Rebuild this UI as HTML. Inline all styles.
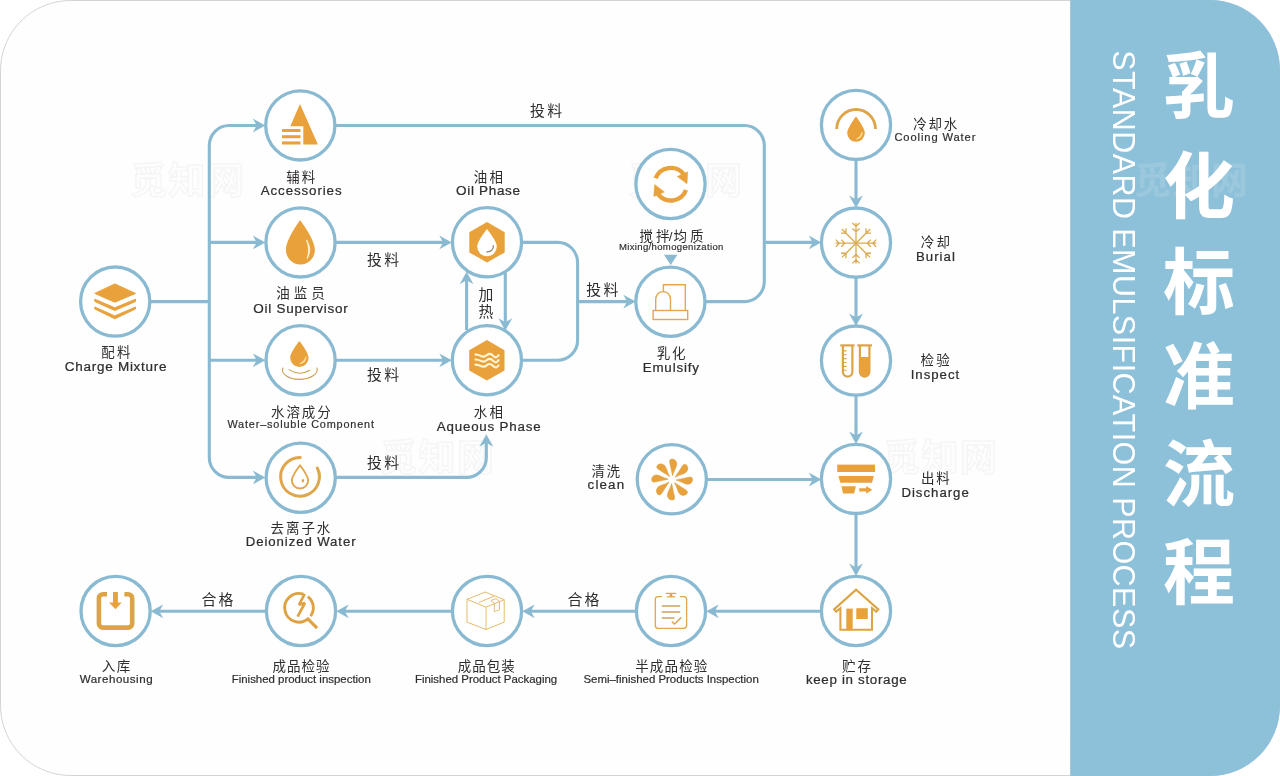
<!DOCTYPE html>
<html><head><meta charset="utf-8"><title>乳化标准流程</title>
<style>
html,body{margin:0;padding:0;background:#fff;}
body{width:1280px;height:776px;overflow:hidden;font-family:"Liberation Sans",sans-serif;}
svg{display:block;will-change:transform;font-family:"Liberation Sans",sans-serif;}
.cj{font-family:"Liberation Sans","Noto Sans CJK SC",sans-serif;}
</style></head><body>
<svg width="1280" height="776" viewBox="0 0 1280 776">
<rect x="0.5" y="0.5" width="1279" height="775" rx="70" ry="70" fill="#fefefe" stroke="#d4d4d4" stroke-width="1"/>
<path d="M1070.2 0H1210A70 70 0 0 1 1280 70V706A70 70 0 0 1 1210 776H1070.2Z" fill="#8dc0d9"/><text transform="translate(1112.9 50.3) rotate(90)" font-size="30.5" letter-spacing="0.45" fill="#fff">STANDARD EMULSIFICATION PROCESS</text><text class="cj" x="1134.0 1172.5 1211.0" y="194" font-size="37" font-weight="bold" fill="#fff" stroke="none" opacity="0.13">觅知网</text><g class="cj" fill="#fff" font-size="72" font-weight="bold" text-anchor="middle"><text x="1199" y="112">乳</text><text x="1199" y="212">化</text><text x="1199" y="308">标</text><text x="1199" y="402">准</text><text x="1199" y="500">流</text><text x="1199" y="598">程</text></g>
<text class="cj" x="130.0 168.5 207.0" y="194" font-size="37" font-weight="bold" fill="#fdfdfd" stroke="#f5f5f5" stroke-width="1.3">觅知网</text>
<text class="cj" x="628.0 666.5 705.0" y="194" font-size="37" font-weight="bold" fill="#fdfdfd" stroke="#f5f5f5" stroke-width="1.3">觅知网</text>
<text class="cj" x="380.0 418.5 457.0" y="470.5" font-size="37" font-weight="bold" fill="#fdfdfd" stroke="#f5f5f5" stroke-width="1.3">觅知网</text>
<text class="cj" x="883.0 921.5 960.0" y="470.5" font-size="37" font-weight="bold" fill="#fdfdfd" stroke="#f5f5f5" stroke-width="1.3">觅知网</text>
<path d="M150 301.6H209.3" fill="none" stroke="#8abad2" stroke-width="3.1"/>
<path d="M262 125.5H229.3A20 20 0 0 0 209.3 145.5V457.4A20 20 0 0 0 229.3 477.4H262" fill="none" stroke="#8abad2" stroke-width="3.1"/>
<path d="M209.3 242.4H262" fill="none" stroke="#8abad2" stroke-width="3.1"/>
<path d="M209.3 360.3H262" fill="none" stroke="#8abad2" stroke-width="3.1"/>
<path d="M336 125.5H744.3A20 20 0 0 1 764.3 145.5V281.6A20 20 0 0 1 744.3 301.6H706" fill="none" stroke="#8abad2" stroke-width="3.1"/>
<path d="M764.3 242.4H815" fill="none" stroke="#8abad2" stroke-width="3.1"/>
<path d="M336 242.4H446" fill="none" stroke="#8abad2" stroke-width="3.1"/>
<path d="M336 360.3H446" fill="none" stroke="#8abad2" stroke-width="3.1"/>
<path d="M336 477.4H466.3A20 20 0 0 0 486.3 457.4V442" fill="none" stroke="#8abad2" stroke-width="3.1"/>
<path d="M522 242.4H557.6A20 20 0 0 1 577.6 262.4V340.3A20 20 0 0 1 557.6 360.3H522" fill="none" stroke="#8abad2" stroke-width="3.1"/>
<path d="M577.6 301.6H630" fill="none" stroke="#8abad2" stroke-width="3.1"/>
<path d="M466.6 280V330" fill="none" stroke="#8abad2" stroke-width="3.1"/>
<path d="M505.3 270V322" fill="none" stroke="#8abad2" stroke-width="3.1"/>
<path d="M856 160V202" fill="none" stroke="#8abad2" stroke-width="3.1"/>
<path d="M856 278V320" fill="none" stroke="#8abad2" stroke-width="3.1"/>
<path d="M856 395V438" fill="none" stroke="#8abad2" stroke-width="3.1"/>
<path d="M856 513V569" fill="none" stroke="#8abad2" stroke-width="3.1"/>
<path d="M706 479.5H815" fill="none" stroke="#8abad2" stroke-width="3.1"/>
<path d="M821 611.3H712" fill="none" stroke="#8abad2" stroke-width="3.1"/>
<path d="M636 611.3H528" fill="none" stroke="#8abad2" stroke-width="3.1"/>
<path d="M452 611.3H342" fill="none" stroke="#8abad2" stroke-width="3.1"/>
<path d="M266 611.3H156" fill="none" stroke="#8abad2" stroke-width="3.1"/>
<path d="M0 0L-12.5 -6.9L-8.6 0L-12.5 6.9Z" fill="#8abad2" transform="translate(265.3 125.5) rotate(0)"/>
<path d="M0 0L-12.5 -6.9L-8.6 0L-12.5 6.9Z" fill="#8abad2" transform="translate(265.3 242.4) rotate(0)"/>
<path d="M0 0L-12.5 -6.9L-8.6 0L-12.5 6.9Z" fill="#8abad2" transform="translate(265.3 360.3) rotate(0)"/>
<path d="M0 0L-12.5 -6.9L-8.6 0L-12.5 6.9Z" fill="#8abad2" transform="translate(265.3 477.4) rotate(0)"/>
<path d="M0 0L-12.5 -6.9L-8.6 0L-12.5 6.9Z" fill="#8abad2" transform="translate(451.8 242.4) rotate(0)"/>
<path d="M0 0L-12.5 -6.9L-8.6 0L-12.5 6.9Z" fill="#8abad2" transform="translate(451.8 360.3) rotate(0)"/>
<path d="M0 0L-12.5 -6.9L-8.6 0L-12.5 6.9Z" fill="#8abad2" transform="translate(486.3 434.2) rotate(270)"/>
<path d="M0 0L-12.5 -6.9L-8.6 0L-12.5 6.9Z" fill="#8abad2" transform="translate(635.8 301.6) rotate(0)"/>
<path d="M0 0L-12.5 -6.9L-8.6 0L-12.5 6.9Z" fill="#8abad2" transform="translate(821.3 242.4) rotate(0)"/>
<path d="M0 0L-12.5 -6.9L-8.6 0L-12.5 6.9Z" fill="#8abad2" transform="translate(466.6 271.7) rotate(270)"/>
<path d="M0 0L-12.5 -6.9L-8.6 0L-12.5 6.9Z" fill="#8abad2" transform="translate(505.3 330.8) rotate(90)"/>
<path d="M0 0L-12.5 -6.9L-8.6 0L-12.5 6.9Z" fill="#8abad2" transform="translate(856 208.10000000000002) rotate(90)"/>
<path d="M0 0L-12.5 -6.9L-8.6 0L-12.5 6.9Z" fill="#8abad2" transform="translate(856 326.0) rotate(90)"/>
<path d="M0 0L-12.5 -6.9L-8.6 0L-12.5 6.9Z" fill="#8abad2" transform="translate(856 444.1) rotate(90)"/>
<path d="M0 0L-12.5 -6.9L-8.6 0L-12.5 6.9Z" fill="#8abad2" transform="translate(856 576.0999999999999) rotate(90)"/>
<path d="M0 0L-12.5 -6.9L-8.6 0L-12.5 6.9Z" fill="#8abad2" transform="translate(821.3 479.5) rotate(0)"/>
<path d="M0 0L-12.5 -6.9L-8.6 0L-12.5 6.9Z" fill="#8abad2" transform="translate(706.2 611.3) rotate(180)"/>
<path d="M0 0L-12.5 -6.9L-8.6 0L-12.5 6.9Z" fill="#8abad2" transform="translate(522.2 611.3) rotate(180)"/>
<path d="M0 0L-12.5 -6.9L-8.6 0L-12.5 6.9Z" fill="#8abad2" transform="translate(336.2 611.3) rotate(180)"/>
<path d="M0 0L-12.5 -6.9L-8.6 0L-12.5 6.9Z" fill="#8abad2" transform="translate(150.7 611.3) rotate(180)"/>
<path d="M670.7 265L664 254.8H677.5Z" fill="#8abad2"/>
<circle cx="115.2" cy="301.6" r="34.6" fill="#fff" stroke="#8abad2" stroke-width="3.3"/>
<g transform="translate(115 301.2)"><g fill="#e9a23b" stroke="#e9a23b" stroke-width="1" stroke-linejoin="round"><polygon points="-20.2,-7.8 -0.2,-17.3 20.5,-7.8 -0.2,1.0"/><polygon points="-20.2,-2.0 -0.2,6.6 20.5,-2.0 20.5,0.3 -0.2,9.3 -20.2,0.3"/><polygon points="-20.2,5.8 -0.2,14.7 20.5,5.8 20.5,7.8 -0.2,17.6 -20.2,7.8"/></g></g>
<circle cx="300.3" cy="125.4" r="34.6" fill="#fff" stroke="#8abad2" stroke-width="3.3"/>
<g transform="translate(300.5 125.5)"><g fill="#e9a23b"><polygon points="-0.5,-21.6 17.4,19.0 2.8,19.0 2.8,0.8 -10.2,0.8"/><rect x="-18.5" y="3.5" width="18.5" height="3"/><rect x="-18.5" y="9.7" width="18.5" height="3"/><rect x="-18.5" y="15.9" width="18.5" height="3.1"/></g></g>
<circle cx="300.5" cy="242.4" r="34.6" fill="#fff" stroke="#8abad2" stroke-width="3.3"/>
<g transform="translate(300.5 242.5)"><path d="M-0.4 -22.3C-0.4 -22.3 -14.6 -3.5 -14.6 7.4A14.5 14.6 0 0 0 14.4 7.4C14.4 -3.5 -0.4 -22.3 -0.4 -22.3Z" fill="#e9a23b"/><path d="M6.0 -2.6Q12.2 6.5 6.7 16.2Q9.6 6.5 6.0 -2.6Z" fill="#fff6d8" stroke="#fff6d8" stroke-width="0.8" stroke-linejoin="round"/></g>
<circle cx="300.6" cy="360.3" r="34.6" fill="#fff" stroke="#8abad2" stroke-width="3.3"/>
<g transform="translate(300.5 360)"><path d="M-1.1 -18.9C-1.1 -18.9 -10.3 -7.5 -10.3 -2.3A9.2 9.2 0 0 0 8.1 -2.3C8.1 -7.5 -1.1 -18.9 -1.1 -18.9Z" fill="#e9a23b"/><path d="M5.6 -3.4Q5.5 3 -0.8 3.8Q4.2 1.6 5.6 -3.4Z" fill="#ffe9a8" stroke="#ffe9a8" stroke-width="0.6"/><path d="M-11.4 9.6Q-1 16.5 9.2 10.2" fill="none" stroke="#cf9f4e" stroke-width="1.1" stroke-linecap="round"/><path d="M-17.6 8.0C-20 13.5 -12 19.4 -1.1 19.4C10 19.4 18.5 13.5 16.4 8.0" fill="none" stroke="#cf9f4e" stroke-width="1.1" stroke-linecap="round"/></g>
<circle cx="300.7" cy="477.8" r="34.6" fill="#fff" stroke="#8abad2" stroke-width="3.3"/>
<g transform="translate(300.5 477.5)"><path d="M16.79 -9.51A19.4 19.4 0 1 1 -0.16 -20.10" fill="none" stroke="#dfa64a" stroke-width="3.0" stroke-linecap="round"/><path d="M-0.5 -12.2C-0.5 -12.2 -8.6 -1.5 -8.6 2.9A8.1 8.1 0 0 0 7.6 2.9C7.6 -1.5 -0.5 -12.2 -0.5 -12.2Z" fill="none" stroke="#dfa64a" stroke-width="1.9" stroke-linejoin="round"/><ellipse cx="2.4" cy="3.2" rx="1.3" ry="1.7" fill="#e4a548"/></g>
<circle cx="487" cy="242.3" r="34.6" fill="#fff" stroke="#8abad2" stroke-width="3.3"/>
<g transform="translate(487 242.5)"><polygon points="0.0,-20.4 17.7,-10.3 17.7,9.9 0.0,20.0 -17.7,9.9 -17.7,-10.3" fill="#e9a23b"/><path d="M0 -13.4C0 -13.4 -9.8 -1.2 -9.8 4.0A9.8 9.8 0 0 0 9.8 4.0C9.8 -1.2 0 -13.4 0 -13.4Z" fill="#fff"/><path d="M6.3 3.0A5.6 5.6 0 0 1 -0.2 9.3" fill="none" stroke="#8d8472" stroke-width="1.2" stroke-linecap="round"/></g>
<circle cx="486.9" cy="360.2" r="34.6" fill="#fff" stroke="#8abad2" stroke-width="3.3"/>
<g transform="translate(487 360)"><polygon points="-0.1,-20.0 17.5,-9.8 17.5,10.5 -0.1,20.6 -17.8,10.5 -17.8,-9.8" fill="#e9a23b"/><path d="M-12.4 -5.5Q-9.3 -5.9 -6.2 -4.1T0 -5.0T6.2 -4.1T12 -5.5" fill="none" stroke="#fff6d6" stroke-width="2.1"/><path d="M-12.4 -0.4Q-9.3 -0.8 -6.2 0.9T0 0.0T6.2 0.9T12 -0.4" fill="none" stroke="#fff6d6" stroke-width="2.1"/><path d="M-12.4 4.7Q-9.3 4.3 -6.2 6.0T0 5.1T6.2 6.0T12 4.7" fill="none" stroke="#fff6d6" stroke-width="2.1"/></g>
<circle cx="670.5" cy="184" r="34.6" fill="#fff" stroke="#8abad2" stroke-width="3.3"/>
<g transform="translate(671 184)"><g fill="#e9a23b" stroke="#e9a23b"><path d="M-15.42 -5.69A16.3 16.3 0 0 1 12.64 -9.89" fill="none" stroke-width="4.3"/><path d="M15.02 5.99A16.3 16.3 0 0 1 -13.04 10.19" fill="none" stroke-width="4.3"/><polygon points="16.8,-12.2 16.0,-0.2 6.2,-7.6" stroke-width="0.5" stroke-linejoin="round"/><polygon points="-17.2,12.5 -16.4,0.5 -6.6,7.9" stroke-width="0.5" stroke-linejoin="round"/></g></g>
<circle cx="670.4" cy="301.8" r="34.6" fill="#fff" stroke="#8abad2" stroke-width="3.3"/>
<g transform="translate(671 301.2)"><g fill="none" stroke="#e0a850" stroke-width="1.4"><rect x="-17.9" y="9.3" width="34.6" height="9.0"/><path d="M-15.3 9.3V-2.2A7.4 7.4 0 0 1 -0.5 -2.2V9.3"/><path d="M-7.6 -9.6V-16.4H14.3V9.3"/></g></g>
<circle cx="856" cy="124.9" r="34.6" fill="#fff" stroke="#8abad2" stroke-width="3.3"/>
<g transform="translate(856 125.5)"><path d="M-19.3 3.4A19.4 19.4 0 0 1 19.5 3.4" fill="none" stroke="#dfa445" stroke-width="2.8"/><path d="M0 -8.9C0 -8.9 -8.8 2.6 -8.8 7.5A8.8 8.8 0 0 0 8.8 7.5C8.8 2.6 0 -8.9 0 -8.9Z" fill="#e9a23b"/><path d="M6.2 6.6Q6.2 12.6 0.4 13.6Q5 11.5 6.2 6.6Z" fill="#ffe9a8" stroke="#ffe9a8" stroke-width="0.6"/></g>
<circle cx="856" cy="242.6" r="34.6" fill="#fff" stroke="#8abad2" stroke-width="3.3"/>
<g transform="translate(856 242.5)"><g transform="translate(0 0.7)" fill="none" stroke="#dba94f" stroke-width="1.3"><path d="M0 0H20.2M11.3 0L14.700000000000001 -3.6M11.3 0L14.700000000000001 3.6M16.8 0L20.2 -3.6M16.8 0L20.2 3.6" transform="rotate(0)"/><path d="M0 0H20.0M14.2 0L17.74 -3.54M14.2 0L17.74 3.54" transform="rotate(45)"/><path d="M0 0H20.2M11.3 0L14.700000000000001 -3.6M11.3 0L14.700000000000001 3.6M16.8 0L20.2 -3.6M16.8 0L20.2 3.6" transform="rotate(90)"/><path d="M0 0H20.0M14.2 0L17.74 -3.54M14.2 0L17.74 3.54" transform="rotate(135)"/><path d="M0 0H20.2M11.3 0L14.700000000000001 -3.6M11.3 0L14.700000000000001 3.6M16.8 0L20.2 -3.6M16.8 0L20.2 3.6" transform="rotate(180)"/><path d="M0 0H20.0M14.2 0L17.74 -3.54M14.2 0L17.74 3.54" transform="rotate(225)"/><path d="M0 0H20.2M11.3 0L14.700000000000001 -3.6M11.3 0L14.700000000000001 3.6M16.8 0L20.2 -3.6M16.8 0L20.2 3.6" transform="rotate(270)"/><path d="M0 0H20.0M14.2 0L17.74 -3.54M14.2 0L17.74 3.54" transform="rotate(315)"/></g></g>
<circle cx="856" cy="360.6" r="34.6" fill="#fff" stroke="#8abad2" stroke-width="3.3"/>
<g transform="translate(856 360)"><g fill="none" stroke="#dda446" stroke-width="2.2"><path d="M-15.7 -14.6H-1.4"/><path d="M1.3 -14.6H16"/><path d="M-13.1 -14.6V11.8A4.75 4.75 0 0 0 -3.6 11.8V-14.6"/><path d="M-12 -9.1H-9.4M-12 -5.2H-9.4M-12 -1.4H-9.4M-12 2.5H-9.4M-12 6.4H-9.4M-12 10.2H-9.4" stroke-width="1.1"/><path d="M3.9 -14.6V11.8A4.75 4.75 0 0 0 13.4 11.8V-14.6"/><path d="M3.9 -2.9H13.4V11.8A4.75 4.75 0 0 1 3.9 11.8Z" fill="#e9a23b" stroke="none"/></g></g>
<circle cx="856" cy="478.9" r="34.6" fill="#fff" stroke="#8abad2" stroke-width="3.3"/>
<g transform="translate(856 477.5)"><g fill="#e9a23b"><rect x="-18.8" y="-12.9" width="37.9" height="7.4"/><polygon points="-17.6,-1.6 17.9,-1.6 16.0,5.3 -15.7,5.3"/><polygon points="-14.5,8.8 -0.2,8.8 -1.8,16.1 -13.0,16.1"/><polygon points="3.2,10.7 10.2,10.7 10.2,8.6 16.2,12.3 10.2,16.2 10.2,13.9 3.2,13.9"/></g></g>
<circle cx="671.8" cy="479.3" r="34.6" fill="#fff" stroke="#8abad2" stroke-width="3.3"/>
<g transform="translate(671 477.5)"><g transform="translate(1.1 2.1)" fill="#e9a23b" stroke="#d9a24a" stroke-width="0.6"><path d="M0.4 -3.9L-2.8 -17.5Q-3.2 -20.5 -0.2 -20.5Q4.1 -20 4.4 -15.6C4.2 -12 1.8 -9.5 0.4 -3.9Z" transform="rotate(1)"/><path d="M0.4 -3.9L-2.8 -17.5Q-3.2 -20.5 -0.2 -20.5Q4.1 -20 4.4 -15.6C4.2 -12 1.8 -9.5 0.4 -3.9Z" transform="rotate(46)"/><path d="M0.4 -3.9L-2.8 -17.5Q-3.2 -20.5 -0.2 -20.5Q4.1 -20 4.4 -15.6C4.2 -12 1.8 -9.5 0.4 -3.9Z" transform="rotate(91)"/><path d="M0.4 -3.9L-2.8 -17.5Q-3.2 -20.5 -0.2 -20.5Q4.1 -20 4.4 -15.6C4.2 -12 1.8 -9.5 0.4 -3.9Z" transform="rotate(136)"/><path d="M0.4 -3.9L-2.8 -17.5Q-3.2 -20.5 -0.2 -20.5Q4.1 -20 4.4 -15.6C4.2 -12 1.8 -9.5 0.4 -3.9Z" transform="rotate(181)"/><path d="M0.4 -3.9L-2.8 -17.5Q-3.2 -20.5 -0.2 -20.5Q4.1 -20 4.4 -15.6C4.2 -12 1.8 -9.5 0.4 -3.9Z" transform="rotate(226)"/><path d="M0.4 -3.9L-2.8 -17.5Q-3.2 -20.5 -0.2 -20.5Q4.1 -20 4.4 -15.6C4.2 -12 1.8 -9.5 0.4 -3.9Z" transform="rotate(271)"/><path d="M0.4 -3.9L-2.8 -17.5Q-3.2 -20.5 -0.2 -20.5Q4.1 -20 4.4 -15.6C4.2 -12 1.8 -9.5 0.4 -3.9Z" transform="rotate(316)"/></g></g>
<circle cx="856" cy="611" r="34.6" fill="#fff" stroke="#8abad2" stroke-width="3.3"/>
<g transform="translate(856 610)"><path d="M0.15 -20.4L-21.9 -0.6L-19.8 1.6L-15.6 -1.8V19.8H16V-1.8L20.2 1.6L22.3 -0.6Z" fill="none" stroke="#dda446" stroke-width="2.1" stroke-linejoin="miter"/><rect x="-9.7" y="-1.4" width="6.4" height="21.6" fill="#e9a23b"/><rect x="0.3" y="-1.8" width="11.5" height="10.8" fill="#e9a23b"/></g>
<circle cx="671" cy="611" r="34.6" fill="#fff" stroke="#8abad2" stroke-width="3.3"/>
<g transform="translate(671 610)"><g fill="none" stroke="#dfa551" stroke-width="1.3" stroke-linecap="round"><path d="M-9.6 -13.4H-13A2.7 2.7 0 0 0 -15.7 -10.7V15.6A2.7 2.7 0 0 0 -13 18.3H12.9A2.7 2.7 0 0 0 15.6 15.6V-10.7A2.7 2.7 0 0 0 12.9 -13.4H9.4"/><path d="M-4.9 -16.7H4.8M-3.7 -13.1H3.6"/><path d="M0 -16.7V-13.1" stroke-width="2.7" stroke-linecap="butt"/><path d="M-8.7 -4.1H8.7M-8.7 1.9H8.7M-8.7 7.9H2.9" stroke="#d0a260" stroke-width="1.5"/><path d="M1.3 12.1L3.6 14.1L9.8 7.9" stroke-width="1.5"/></g></g>
<circle cx="487" cy="611" r="34.6" fill="#fff" stroke="#8abad2" stroke-width="3.3"/>
<g transform="translate(487 610)"><g fill="none" stroke="#e2b45e" stroke-width="0.9" stroke-linejoin="round"><path d="M-1.8 -18L-20 -10.7L-1 -2.9L17.2 -10.3Z"/><path d="M-20 -10.7V12.1L-1 19.5L17.2 12.1V-10.3"/><path d="M-1 -2.9V19.5"/><path d="M-8 -7.6L7.1 -13.8"/><path d="M7.3 -6.8V1.7L12.4 -0.2V-8.7"/><path d="M7.3 -6.8L4 -9.5L9 -11.4L12.4 -8.7"/></g></g>
<circle cx="301" cy="611" r="34.6" fill="#fff" stroke="#8abad2" stroke-width="3.3"/>
<g transform="translate(300.5 610)"><g fill="none" stroke="#dfa243" stroke-width="2.9"><path d="M2.92 -15.80A14.3 14.3 0 1 0 8.07 8.43"/><path d="M7.30 -13.47A14.3 14.3 0 0 1 10.07 6.21"/><path d="M6.6 8.2L16.6 18.2" stroke-width="3.1"/><path d="M4.2 -16.2L-1.4 -5.4L4.4 -7.0L-2.9 6.6" stroke-width="2.7" stroke-linejoin="bevel"/></g></g>
<circle cx="115.6" cy="611" r="34.6" fill="#fff" stroke="#8abad2" stroke-width="3.3"/>
<g transform="translate(115 610)"><path d="M-8 -15.7H-12.1A4 4 0 0 0 -16.1 -11.7V13.6A4 4 0 0 0 -12.1 17.6H13.2A4 4 0 0 0 17.2 13.6V-11.7A4 4 0 0 0 13.2 -15.7H9.4" fill="none" stroke="#dda446" stroke-width="4.6"/><path d="M-2 -18H2.9V-7.6H6.7L0.5 -0.8L-6 -7.6H-2Z" fill="#e9a23b"/></g>
<text class="cj" x="101.21 116.89" y="357.34" font-size="13.5" fill="#302d2d">配料</text>
<text transform="scale(1.07 1)" x="60.57" y="371.40" font-size="12.62" letter-spacing="0.689" fill="#302d2d" stroke="#302d2d" stroke-width="0.23">Charge Mixture</text>
<text class="cj" x="286.28 301.69" y="181.64" font-size="13.5" fill="#302d2d">辅料</text>
<text transform="scale(1.07 1)" x="243.71" y="195.50" font-size="12.48" letter-spacing="0.833" fill="#302d2d" stroke="#302d2d" stroke-width="0.22">Accessories</text>
<text class="cj" x="276.37 293.82 311.27" y="298.23" font-size="13.5" fill="#302d2d">油监员</text>
<text transform="scale(1.07 1)" x="236.79" y="312.75" font-size="12.62" letter-spacing="0.706" fill="#302d2d" stroke="#302d2d" stroke-width="0.23">Oil Supervisor</text>
<text class="cj" x="271.08 286.46 301.83 317.21" y="416.67" font-size="13.5" fill="#302d2d">水溶成分</text>
<text transform="scale(1.07 1)" x="212.57" y="428.50" font-size="10.15" letter-spacing="0.783" fill="#302d2d" stroke="#302d2d" stroke-width="0.18">Water–soluble Component</text>
<text class="cj" x="270.59 285.99 301.39 316.78" y="533.13" font-size="13.5" fill="#302d2d">去离子水</text>
<text transform="scale(1.07 1)" x="229.73" y="546.50" font-size="12.35" letter-spacing="0.851" fill="#302d2d" stroke="#302d2d" stroke-width="0.22">Deionized Water</text>
<text class="cj" x="473.72 489.44" y="181.76" font-size="13.5" fill="#302d2d">油相</text>
<text transform="scale(1.07 1)" x="426.27" y="195.50" font-size="12.62" letter-spacing="0.636" fill="#302d2d" stroke="#302d2d" stroke-width="0.23">Oil Phase</text>
<text class="cj" x="473.83 489.44" y="416.67" font-size="13.5" fill="#302d2d">水相</text>
<text transform="scale(1.07 1)" x="408.15" y="430.90" font-size="12.48" letter-spacing="0.764" fill="#302d2d" stroke="#302d2d" stroke-width="0.22">Aqueous Phase</text>
<text class="cj" x="639.54 655.96 668.85 673.51 689.92" y="240.80" font-size="13.5" fill="#302d2d">搅拌/均质</text>
<text transform="scale(1.07 1)" x="578.47" y="250.30" font-size="8.92" letter-spacing="0.326" fill="#302d2d" stroke="#302d2d" stroke-width="0.16">Mixing/homogenization</text>
<text class="cj" x="656.68 671.96" y="358.09" font-size="13.5" fill="#302d2d">乳化</text>
<text transform="scale(1.07 1)" x="600.61" y="371.90" font-size="12.48" letter-spacing="0.802" fill="#302d2d" stroke="#302d2d" stroke-width="0.22">Emulsify</text>
<text class="cj" x="913.35 928.51 943.68" y="128.91" font-size="13.5" fill="#302d2d">冷却水</text>
<text transform="scale(1.07 1)" x="835.92" y="141.30" font-size="10.43" letter-spacing="0.831" fill="#302d2d" stroke="#302d2d" stroke-width="0.19">Cooling Water</text>
<text class="cj" x="920.85 936.40" y="247.03" font-size="13.5" fill="#302d2d">冷却</text>
<text transform="scale(1.07 1)" x="856.00" y="260.70" font-size="12.35" letter-spacing="0.990" fill="#302d2d" stroke="#302d2d" stroke-width="0.22">Burial</text>
<text class="cj" x="920.60 936.20" y="364.90" font-size="13.5" fill="#302d2d">检验</text>
<text transform="scale(1.07 1)" x="851.10" y="378.70" font-size="12.35" letter-spacing="0.939" fill="#302d2d" stroke="#302d2d" stroke-width="0.22">Inspect</text>
<text class="cj" x="920.90 936.29" y="483.29" font-size="13.5" fill="#302d2d">出料</text>
<text transform="scale(1.07 1)" x="842.45" y="496.70" font-size="12.35" letter-spacing="0.935" fill="#302d2d" stroke="#302d2d" stroke-width="0.22">Discharge</text>
<text class="cj" x="591.48 606.57" y="475.53" font-size="13.5" fill="#302d2d">清洗</text>
<text transform="scale(1.07 1)" x="549.10" y="488.90" font-size="12.48" letter-spacing="1.099" fill="#302d2d" stroke="#302d2d" stroke-width="0.22">clean</text>
<text class="cj" x="842.04 857.55" y="671.25" font-size="13.5" fill="#302d2d">贮存</text>
<text transform="scale(1.07 1)" x="753.18" y="684.50" font-size="12.48" letter-spacing="0.638" fill="#302d2d" stroke="#302d2d" stroke-width="0.22">keep in storage</text>
<text class="cj" x="635.21 649.86 664.50 679.15 693.80" y="670.88" font-size="13.5" fill="#302d2d">半成品检验</text>
<text transform="scale(1.07 1)" x="545.31" y="682.90" font-size="10.70" letter-spacing="-0.008" fill="#302d2d" stroke="#302d2d" stroke-width="0.19">Semi–finished Products Inspection</text>
<text class="cj" x="457.68 472.21 486.73 501.26" y="670.85" font-size="13.5" fill="#302d2d">成品包装</text>
<text transform="scale(1.07 1)" x="387.81" y="682.90" font-size="10.70" letter-spacing="-0.010" fill="#302d2d" stroke="#302d2d" stroke-width="0.19">Finished Product Packaging</text>
<text class="cj" x="272.48 286.95 301.43 315.90" y="670.88" font-size="13.5" fill="#302d2d">成品检验</text>
<text transform="scale(1.07 1)" x="216.60" y="682.90" font-size="10.70" letter-spacing="-0.010" fill="#302d2d" stroke="#302d2d" stroke-width="0.19">Finished product inspection</text>
<text class="cj" x="101.80 116.79" y="670.87" font-size="13.5" fill="#302d2d">入库</text>
<text transform="scale(1.07 1)" x="74.44" y="683.30" font-size="10.84" letter-spacing="0.475" fill="#302d2d" stroke="#302d2d" stroke-width="0.20">Warehousing</text>
<text class="cj" x="529.95 547.13" y="115.60" font-size="14.9" fill="#302d2d">投料</text>
<text class="cj" x="366.95 384.13" y="264.60" font-size="14.9" fill="#302d2d">投料</text>
<text class="cj" x="366.95 384.13" y="379.60" font-size="14.9" fill="#302d2d">投料</text>
<text class="cj" x="366.95 384.13" y="468.10" font-size="14.9" fill="#302d2d">投料</text>
<text class="cj" x="586.35 603.53" y="294.70" font-size="14.9" fill="#302d2d">投料</text>
<text class="cj" x="478.60" y="300.00" font-size="14.8" fill="#302d2d">加</text>
<text class="cj" x="478.60" y="317.00" font-size="14.8" fill="#302d2d">热</text>
<text class="cj" x="201.48 218.40" y="604.73" font-size="14.9" fill="#302d2d">合格</text>
<text class="cj" x="567.48 584.40" y="604.73" font-size="14.9" fill="#302d2d">合格</text>
</svg>
</body></html>
